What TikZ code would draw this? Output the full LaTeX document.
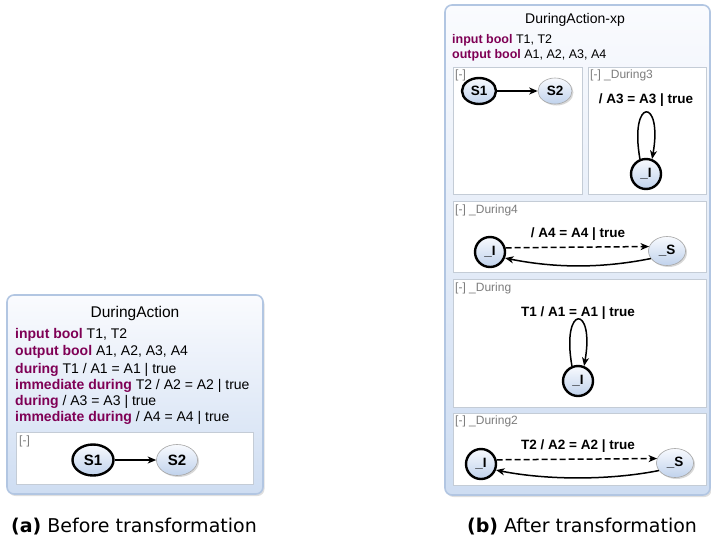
\documentclass[tikz,border=0pt]{standalone}
\usepackage{fontspec}
\setmainfont{Liberation Sans}
\newfontfamily\capfont{DejaVu Sans}
\usetikzlibrary{shapes.geometric,arrows.meta,shadows}

\definecolor{kw}{RGB}{127,0,85}
\definecolor{panelborder}{RGB}{178,198,226}
\definecolor{paneltop}{RGB}{250,251,254}
\definecolor{panelbot}{RGB}{206,221,242}
\definecolor{regborder}{RGB}{196,204,214}
\definecolor{stTop}{RGB}{248,250,254}
\definecolor{stBot}{RGB}{192,210,236}
\definecolor{lblgray}{RGB}{125,125,125}

\begin{document}
\begin{tikzpicture}[x=1pt,y=-1pt,
  panel/.style={draw=panelborder, line width=1.6pt, rounded corners=7pt,
    top color=paneltop, bottom color=panelbot,
    drop shadow={opacity=0.25, shadow xshift=1.5pt, shadow yshift=-2pt}},
  region/.style={draw=regborder, line width=1pt, fill=white},
  stbase/.style={ellipse, top color=stTop, bottom color=stBot, inner sep=0pt, font=\bfseries},
  initst/.style={stbase, draw=black, line width=2.4pt},
  normst/.style={stbase, draw=black!35, line width=0.6pt,
    drop shadow={opacity=0.3, shadow xshift=1.5pt, shadow yshift=-1.5pt}},
  smallst/.style={minimum width=34pt, minimum height=26pt, font=\fontsize{13.5}{15}\selectfont\bfseries},
  circst/.style={minimum width=30pt, minimum height=30pt, font=\fontsize{13.5}{15}\selectfont\bfseries},
  sst/.style={minimum width=37pt, minimum height=29pt, font=\fontsize{13.5}{15}\selectfont\bfseries},
  bigst/.style={minimum width=41pt, minimum height=31pt, font=\fontsize{15}{17}\selectfont\bfseries},
  tr/.style={-{Stealth[length=8.5pt,width=7pt,inset=2.5pt]}, line width=1.5pt},
  dsh/.style={dash pattern=on 6pt off 3pt},
  rlabel/.style={anchor=west, text=lblgray, inner sep=0pt, font=\fontsize{12}{14}\selectfont},
  tlabel/.style={inner sep=0pt, font=\fontsize{13.5}{15}\selectfont\bfseries},
  ltext/.style={anchor=west, inner sep=0pt, font=\fontsize{14}{16}\selectfont},
  rtext/.style={anchor=west, inner sep=0pt, font=\fontsize{12.5}{14}\selectfont},
  captext/.style={inner sep=0pt, font=\capfont\fontsize{19}{22}\selectfont}
]
\useasboundingbox (0,0) rectangle (711,541);

% ---------------- (a) Before transformation ----------------
\draw[panel] (7,295) rectangle (263,494);
\node[inner sep=0pt, font=\fontsize{15.5}{18}\selectfont] (ta) at (135,313) {DuringAction};
\node[ltext] (la1) at (15,335) {\textcolor{kw}{\bfseries input bool} T1, T2};
\node[ltext] (la2) at (15,352) {\textcolor{kw}{\bfseries output bool} A1, A2, A3, A4};
\node[ltext] (la3) at (15,370) {\textcolor{kw}{\bfseries during} T1 / A1 = A1 | true};
\node[ltext] (la4) at (15,386) {\textcolor{kw}{\bfseries immediate during} T2 / A2 = A2 | true};
\node[ltext] (la5) at (15,402) {\textcolor{kw}{\bfseries during} / A3 = A3 | true};
\node[ltext] (la6) at (15,418) {\textcolor{kw}{\bfseries immediate during} / A4 = A4 | true};
\draw[region] (16,432) rectangle (253,484);
\node[rlabel] (ra0) at (19,441) {[-]};
\node[initst, bigst] (as1) at (93,460) {S1};
\node[normst, bigst] (as2) at (177,460) {S2};
\draw[tr] (as1) -- (as2);

% ---------------- (b) After transformation ----------------
\draw[panel] (445,5) rectangle (710,495);
\node[inner sep=0pt, font=\fontsize{14}{16}\selectfont] (tb) at (575,20) {DuringAction-xp};
\node[rtext] (lb1) at (452,40) {\textcolor{kw}{\bfseries input bool} T1, T2};
\node[rtext] (lb2) at (452,55) {\textcolor{kw}{\bfseries output bool} A1, A2, A3, A4};

% region 1
\draw[region] (453,67) rectangle (582,194);
\node[rlabel] (rb1) at (455,75) {[-]};
\node[initst, smallst] (bs1) at (479,91) {S1};
\node[normst, smallst] (bs2) at (555,91) {S2};
\draw[tr] (bs1) -- (bs2);

% region _During3
\draw[region] (588,67) rectangle (706,194);
\node[rlabel] (rb2) at (590,75) {[-] \_During3};
\node[tlabel] (t3) at (646,100) {/ A3 = A3 | true};
\node[initst, circst] (i3) at (646,174) {\_I};
\draw[tr] (i3.112) .. controls +(-11,-62) and +(11,-62) .. (i3.68);

% region _During4
\draw[region] (453,201) rectangle (706,272);
\node[rlabel] (rb3) at (455,210) {[-] \_During4};
\node[tlabel] (t4) at (578,234) {/ A4 = A4 | true};
\node[initst, circst] (i4) at (490,252) {\_I};
\node[normst, sst] (s4) at (667,251) {\_S};
\draw[tr, dsh] (i4.15) -- (s4.166);
\draw[tr] (s4.205) .. controls +(-50,10) and +(50,10) .. (i4.-22);

% region _During
\draw[region] (453,279) rectangle (706,407);
\node[rlabel] (rb4) at (455,288) {[-] \_During};
\node[tlabel] (t1) at (578,313) {T1 / A1 = A1 | true};
\node[initst, circst] (i1) at (578,381) {\_I};
\draw[tr] (i1.112) .. controls +(-11,-62) and +(11,-62) .. (i1.68);

% region _During2
\draw[region] (453,413) rectangle (706,485);
\node[rlabel] (rb5) at (455,421) {[-] \_During2};
\node[tlabel] (t2) at (578,446) {T2 / A2 = A2 | true};
\node[initst, circst] (i2) at (481,464) {\_I};
\node[normst, sst] (s2) at (675,463) {\_S};
\draw[tr, dsh] (i2.15) -- (s2.166);
\draw[tr] (s2.205) .. controls +(-50,10) and +(50,10) .. (i2.-22);

% captions
\node[captext] (capa) at (134,527) {\textbf{(a)} Before transformation};
\node[captext] (capb) at (582,527) {\textbf{(b)} After transformation};
\end{tikzpicture}
\end{document}
